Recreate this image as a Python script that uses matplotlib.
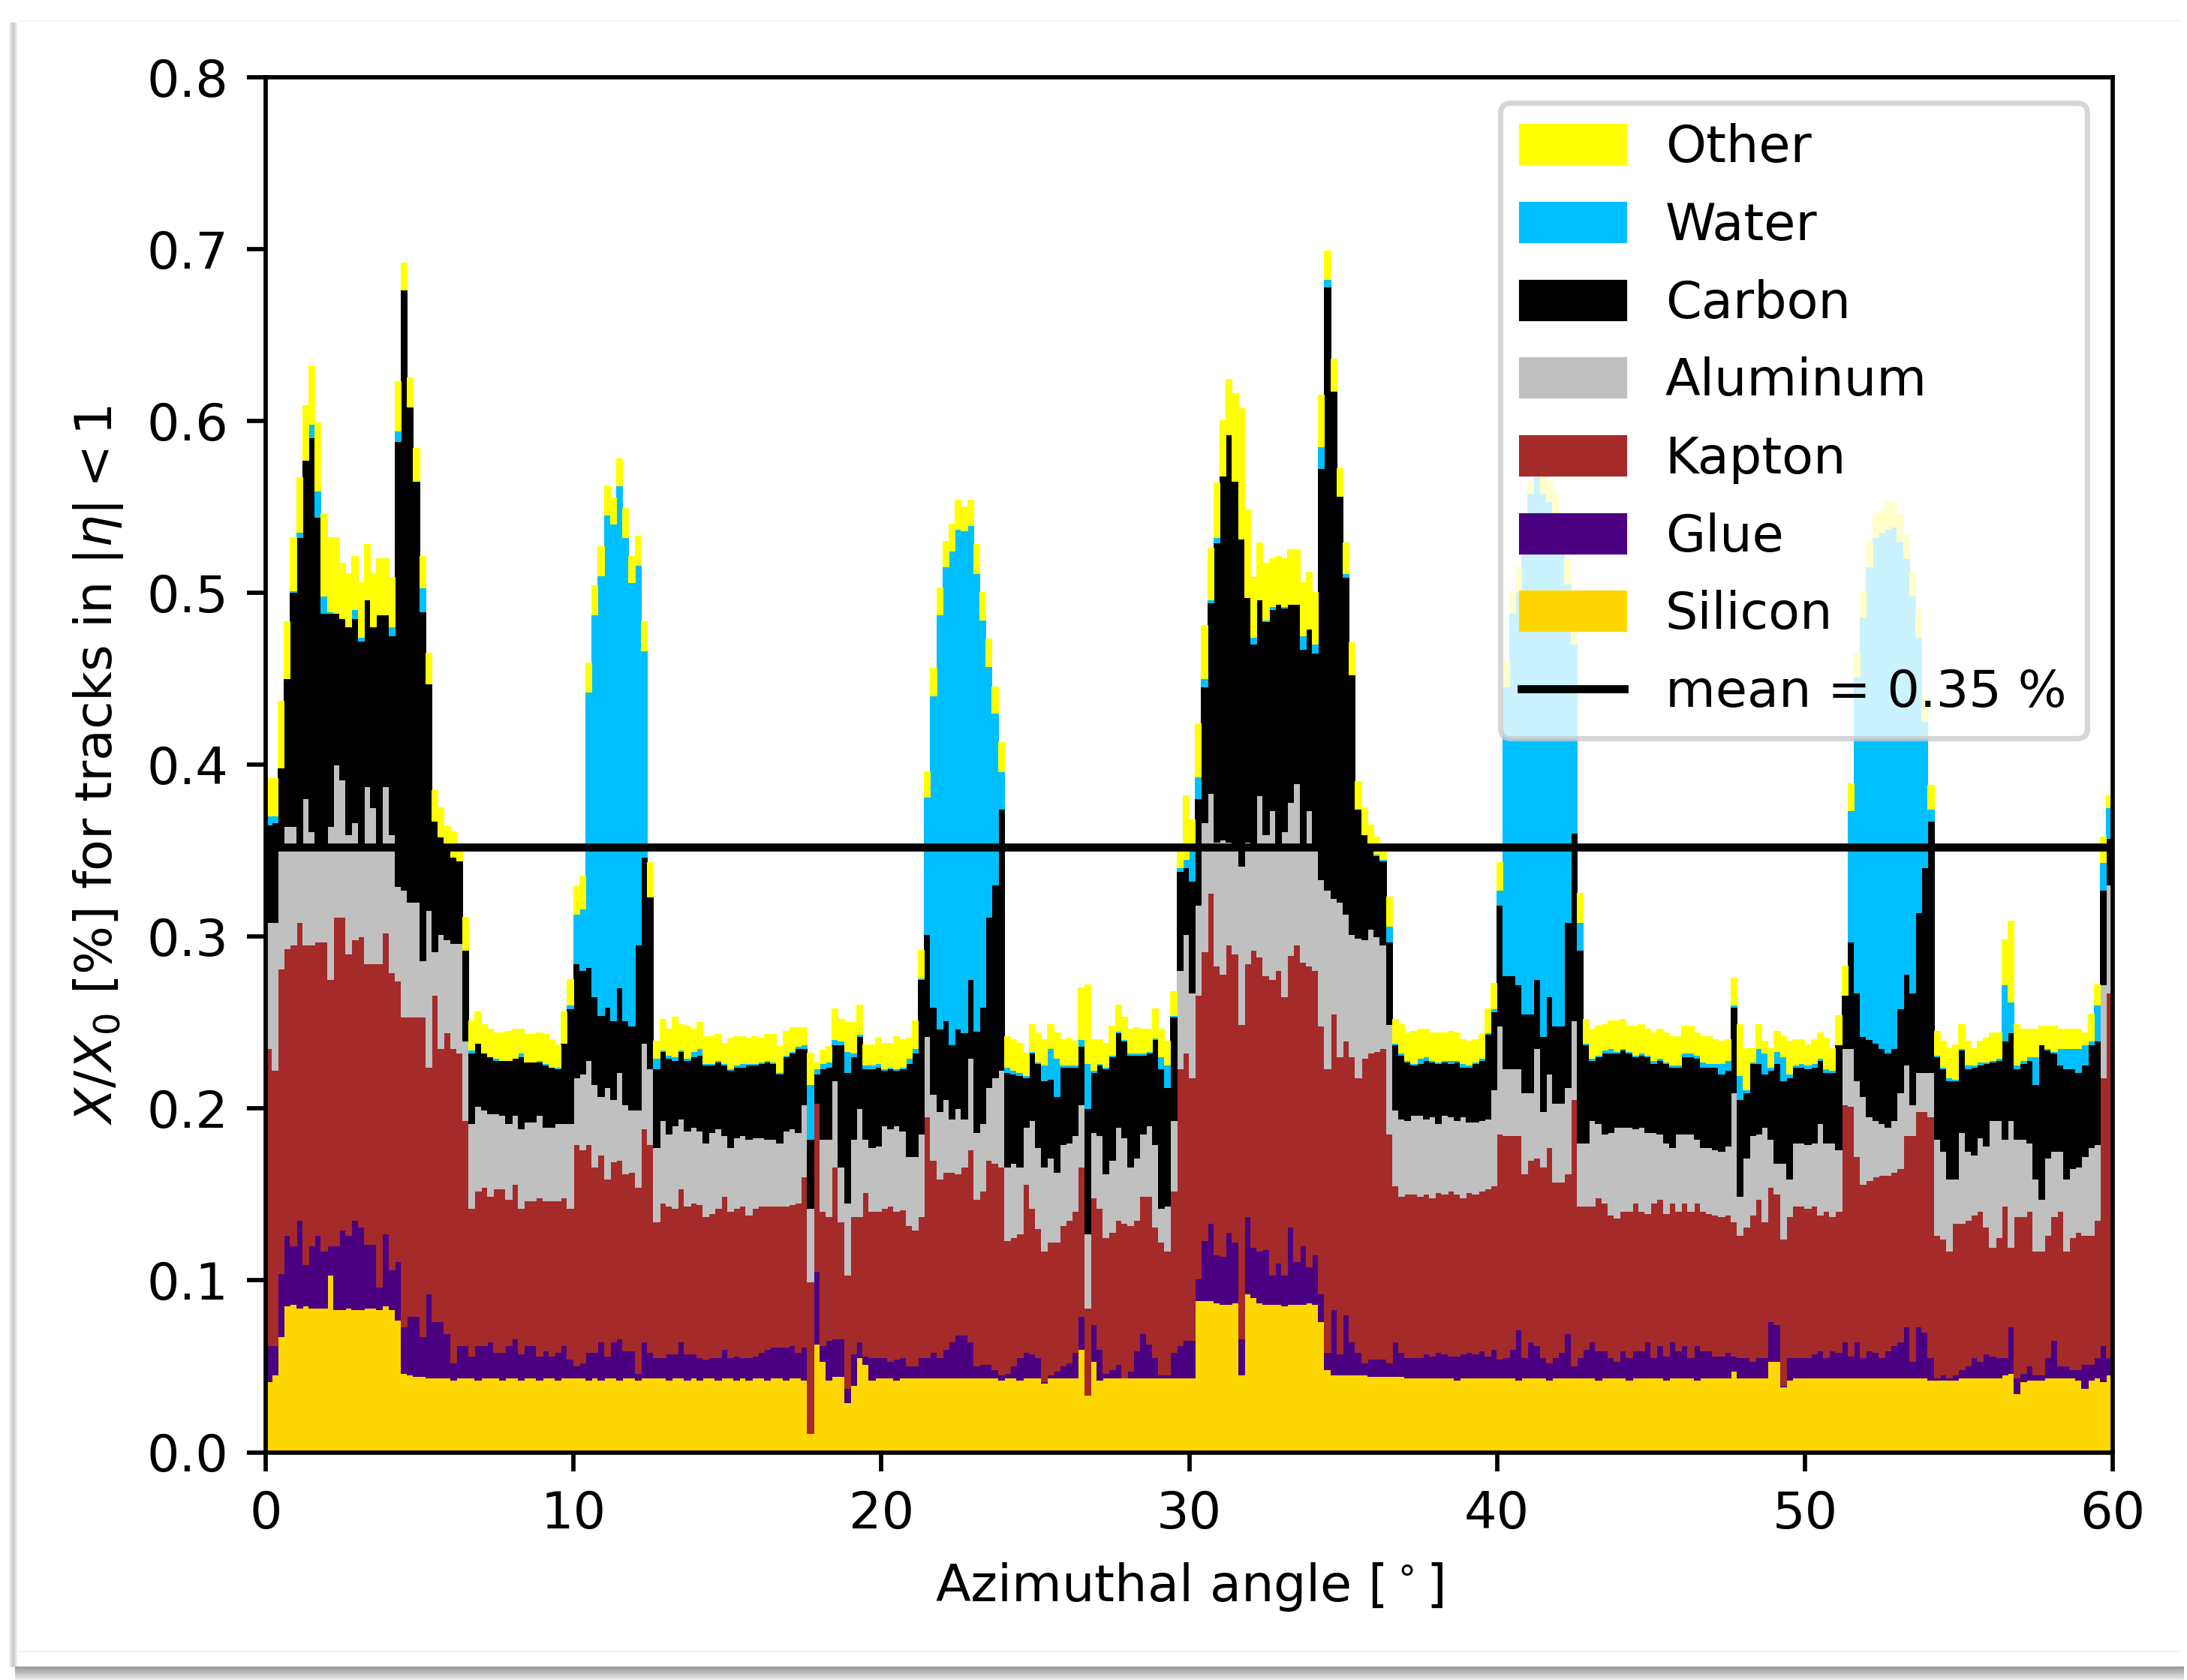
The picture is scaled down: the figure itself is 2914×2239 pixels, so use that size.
import numpy as np
import matplotlib
matplotlib.use("Agg")
import matplotlib.pyplot as plt
from matplotlib.patches import Patch, Rectangle
from matplotlib.lines import Line2D

# ---------------- data ----------------
# Azimuthal angle histogram: 0..60 deg, 0.2 deg bins (300 bins).
# Each array is the stacked (cumulative) X/X0 [%] level reached at the top
# of that material, read bin by bin from the reference picture.
angle_range = (0.0, 60.0)
n_bins = 300

silicon_top = [
    0.041, 0.045, 0.067, 0.085, 0.086, 0.084, 0.085, 0.084, 0.084, 0.084,
    0.103, 0.083, 0.083, 0.084, 0.083, 0.083, 0.084, 0.084, 0.083, 0.085,
    0.083, 0.077, 0.046, 0.045, 0.044, 0.044, 0.043, 0.043, 0.043, 0.043,
    0.042, 0.043, 0.043, 0.043, 0.042, 0.043, 0.043, 0.043, 0.042, 0.043,
    0.043, 0.042, 0.043, 0.043, 0.042, 0.043, 0.043, 0.042, 0.043, 0.043,
    0.043, 0.043, 0.042, 0.043, 0.042, 0.043, 0.043, 0.042, 0.043, 0.043,
    0.042, 0.043, 0.043, 0.043, 0.043, 0.042, 0.043, 0.043, 0.042, 0.043,
    0.042, 0.043, 0.043, 0.042, 0.043, 0.043, 0.042, 0.043, 0.042, 0.043,
    0.043, 0.042, 0.043, 0.043, 0.042, 0.043, 0.043, 0.042, 0.011, 0.063,
    0.053, 0.042, 0.044, 0.044, 0.029, 0.039, 0.055, 0.051, 0.042, 0.043,
    0.043, 0.043, 0.042, 0.043, 0.043, 0.043, 0.043, 0.043, 0.043, 0.043,
    0.043, 0.043, 0.043, 0.043, 0.043, 0.043, 0.043, 0.043, 0.043, 0.042,
    0.043, 0.043, 0.042, 0.043, 0.043, 0.043, 0.040, 0.043, 0.043, 0.043,
    0.043, 0.043, 0.060, 0.033, 0.053, 0.042, 0.043, 0.043, 0.043, 0.043,
    0.043, 0.043, 0.043, 0.043, 0.043, 0.043, 0.043, 0.043, 0.043, 0.043,
    0.043, 0.088, 0.088, 0.088, 0.087, 0.086, 0.086, 0.087, 0.045, 0.092,
    0.090, 0.087, 0.086, 0.086, 0.086, 0.085, 0.086, 0.086, 0.086, 0.087,
    0.086, 0.076, 0.048, 0.045, 0.045, 0.045, 0.045, 0.045, 0.045, 0.044,
    0.044, 0.044, 0.044, 0.044, 0.044, 0.043, 0.043, 0.043, 0.043, 0.043,
    0.043, 0.043, 0.043, 0.042, 0.043, 0.043, 0.043, 0.043, 0.043, 0.043,
    0.043, 0.043, 0.043, 0.042, 0.043, 0.043, 0.043, 0.043, 0.042, 0.043,
    0.043, 0.043, 0.043, 0.043, 0.043, 0.043, 0.042, 0.043, 0.043, 0.043,
    0.043, 0.042, 0.043, 0.043, 0.043, 0.043, 0.043, 0.042, 0.043, 0.043,
    0.043, 0.043, 0.042, 0.043, 0.043, 0.043, 0.043, 0.043, 0.047, 0.043,
    0.043, 0.043, 0.043, 0.043, 0.053, 0.053, 0.038, 0.042, 0.043, 0.043,
    0.043, 0.043, 0.043, 0.043, 0.043, 0.043, 0.043, 0.043, 0.043, 0.043,
    0.043, 0.043, 0.043, 0.043, 0.043, 0.043, 0.043, 0.043, 0.043, 0.043,
    0.042, 0.042, 0.042, 0.042, 0.042, 0.043, 0.043, 0.043, 0.043, 0.043,
    0.043, 0.043, 0.045, 0.046, 0.034, 0.041, 0.042, 0.042, 0.042, 0.043,
    0.043, 0.043, 0.043, 0.043, 0.042, 0.037, 0.042, 0.043, 0.041, 0.045,
]

glue_top = [
    0.062, 0.062, 0.104, 0.126, 0.120, 0.135, 0.109, 0.120, 0.126, 0.117,
    0.120, 0.120, 0.129, 0.126, 0.135, 0.131, 0.121, 0.121, 0.096, 0.127,
    0.106, 0.111, 0.073, 0.079, 0.079, 0.067, 0.092, 0.076, 0.076, 0.069,
    0.052, 0.062, 0.062, 0.056, 0.062, 0.062, 0.064, 0.058, 0.058, 0.062,
    0.066, 0.057, 0.062, 0.062, 0.056, 0.059, 0.056, 0.058, 0.062, 0.054,
    0.050, 0.052, 0.058, 0.058, 0.064, 0.056, 0.064, 0.066, 0.059, 0.059,
    0.046, 0.064, 0.058, 0.055, 0.055, 0.057, 0.057, 0.064, 0.057, 0.057,
    0.055, 0.054, 0.055, 0.055, 0.060, 0.055, 0.056, 0.055, 0.055, 0.056,
    0.058, 0.060, 0.061, 0.061, 0.061, 0.062, 0.058, 0.061, 0.011, 0.105,
    0.062, 0.065, 0.066, 0.066, 0.037, 0.057, 0.064, 0.056, 0.055, 0.055,
    0.055, 0.053, 0.054, 0.055, 0.050, 0.050, 0.055, 0.055, 0.058, 0.055,
    0.060, 0.064, 0.068, 0.068, 0.064, 0.050, 0.051, 0.051, 0.048, 0.045,
    0.046, 0.050, 0.055, 0.058, 0.057, 0.055, 0.041, 0.045, 0.047, 0.050,
    0.052, 0.058, 0.079, 0.033, 0.074, 0.060, 0.046, 0.048, 0.051, 0.043,
    0.047, 0.059, 0.069, 0.063, 0.055, 0.045, 0.045, 0.058, 0.062, 0.065,
    0.065, 0.101, 0.123, 0.133, 0.115, 0.114, 0.128, 0.122, 0.066, 0.137,
    0.119, 0.117, 0.118, 0.103, 0.110, 0.103, 0.131, 0.111, 0.120, 0.108,
    0.115, 0.092, 0.058, 0.083, 0.057, 0.080, 0.064, 0.058, 0.052, 0.054,
    0.054, 0.054, 0.052, 0.064, 0.058, 0.055, 0.055, 0.055, 0.057, 0.056,
    0.058, 0.057, 0.056, 0.056, 0.057, 0.058, 0.057, 0.059, 0.056, 0.060,
    0.054, 0.055, 0.060, 0.071, 0.055, 0.064, 0.062, 0.055, 0.052, 0.055,
    0.058, 0.069, 0.050, 0.055, 0.060, 0.064, 0.059, 0.059, 0.055, 0.053,
    0.059, 0.055, 0.059, 0.059, 0.064, 0.055, 0.062, 0.056, 0.064, 0.059,
    0.062, 0.055, 0.062, 0.059, 0.059, 0.056, 0.056, 0.058, 0.056, 0.055,
    0.055, 0.053, 0.055, 0.055, 0.076, 0.074, 0.039, 0.055, 0.055, 0.055,
    0.055, 0.057, 0.059, 0.055, 0.059, 0.058, 0.064, 0.056, 0.064, 0.055,
    0.059, 0.058, 0.055, 0.059, 0.062, 0.064, 0.073, 0.053, 0.073, 0.070,
    0.055, 0.043, 0.045, 0.043, 0.045, 0.048, 0.050, 0.055, 0.053, 0.057,
    0.056, 0.055, 0.055, 0.073, 0.043, 0.046, 0.050, 0.045, 0.045, 0.055,
    0.065, 0.050, 0.050, 0.048, 0.048, 0.051, 0.051, 0.055, 0.062, 0.055,
]

kapton_top = [
    0.235, 0.222, 0.281, 0.293, 0.295, 0.308, 0.295, 0.295, 0.297, 0.297,
    0.275, 0.311, 0.311, 0.290, 0.298, 0.300, 0.284, 0.284, 0.284, 0.302,
    0.279, 0.274, 0.253, 0.253, 0.253, 0.253, 0.224, 0.266, 0.235, 0.244,
    0.235, 0.232, 0.193, 0.142, 0.152, 0.154, 0.149, 0.153, 0.153, 0.147,
    0.156, 0.142, 0.146, 0.146, 0.148, 0.146, 0.146, 0.146, 0.148, 0.142,
    0.179, 0.176, 0.179, 0.166, 0.173, 0.159, 0.169, 0.170, 0.162, 0.163,
    0.154, 0.188, 0.179, 0.134, 0.145, 0.143, 0.142, 0.153, 0.143, 0.145,
    0.144, 0.137, 0.139, 0.142, 0.149, 0.140, 0.142, 0.143, 0.138, 0.142,
    0.143, 0.143, 0.143, 0.143, 0.143, 0.144, 0.145, 0.160, 0.099, 0.203,
    0.140, 0.137, 0.166, 0.134, 0.103, 0.137, 0.137, 0.151, 0.140, 0.140,
    0.142, 0.143, 0.140, 0.141, 0.132, 0.129, 0.137, 0.195, 0.170, 0.159,
    0.163, 0.163, 0.162, 0.166, 0.176, 0.147, 0.152, 0.170, 0.168, 0.166,
    0.123, 0.125, 0.127, 0.156, 0.142, 0.130, 0.117, 0.122, 0.122, 0.132,
    0.135, 0.140, 0.166, 0.084, 0.148, 0.142, 0.125, 0.128, 0.135, 0.133,
    0.132, 0.135, 0.149, 0.149, 0.131, 0.122, 0.117, 0.152, 0.223, 0.232,
    0.218, 0.266, 0.291, 0.325, 0.283, 0.278, 0.295, 0.290, 0.249, 0.284,
    0.292, 0.288, 0.277, 0.275, 0.280, 0.265, 0.289, 0.295, 0.285, 0.283,
    0.280, 0.248, 0.223, 0.255, 0.230, 0.239, 0.230, 0.218, 0.229, 0.232,
    0.233, 0.235, 0.185, 0.155, 0.149, 0.150, 0.150, 0.149, 0.150, 0.148,
    0.151, 0.150, 0.152, 0.150, 0.148, 0.151, 0.150, 0.152, 0.153, 0.155,
    0.185, 0.184, 0.184, 0.184, 0.162, 0.170, 0.171, 0.166, 0.177, 0.157,
    0.157, 0.162, 0.205, 0.143, 0.143, 0.143, 0.148, 0.145, 0.138, 0.136,
    0.140, 0.140, 0.145, 0.140, 0.139, 0.145, 0.147, 0.139, 0.145, 0.140,
    0.145, 0.140, 0.145, 0.140, 0.139, 0.138, 0.137, 0.138, 0.134, 0.126,
    0.131, 0.138, 0.147, 0.134, 0.154, 0.150, 0.124, 0.137, 0.143, 0.143,
    0.142, 0.143, 0.138, 0.140, 0.137, 0.140, 0.202, 0.201, 0.172, 0.156,
    0.158, 0.160, 0.161, 0.161, 0.163, 0.165, 0.184, 0.184, 0.198, 0.198,
    0.195, 0.126, 0.124, 0.117, 0.133, 0.133, 0.135, 0.138, 0.140, 0.131,
    0.119, 0.125, 0.143, 0.119, 0.137, 0.137, 0.140, 0.117, 0.117, 0.126,
    0.137, 0.140, 0.117, 0.125, 0.128, 0.126, 0.126, 0.135, 0.218, 0.267,
]

aluminum_top = [
    0.308, 0.308, 0.352, 0.364, 0.364, 0.350, 0.380, 0.361, 0.350, 0.350,
    0.364, 0.400, 0.391, 0.359, 0.366, 0.350, 0.387, 0.375, 0.350, 0.387,
    0.359, 0.329, 0.327, 0.320, 0.320, 0.286, 0.315, 0.291, 0.301, 0.298,
    0.296, 0.296, 0.239, 0.191, 0.201, 0.199, 0.197, 0.197, 0.196, 0.191,
    0.196, 0.188, 0.192, 0.192, 0.196, 0.189, 0.189, 0.191, 0.191, 0.191,
    0.218, 0.220, 0.228, 0.214, 0.207, 0.212, 0.205, 0.221, 0.202, 0.199,
    0.199, 0.238, 0.223, 0.177, 0.193, 0.185, 0.190, 0.194, 0.187, 0.189,
    0.187, 0.180, 0.186, 0.188, 0.184, 0.177, 0.183, 0.184, 0.182, 0.183,
    0.183, 0.182, 0.182, 0.180, 0.187, 0.188, 0.186, 0.202, 0.142, 0.203,
    0.182, 0.182, 0.216, 0.166, 0.145, 0.182, 0.200, 0.182, 0.177, 0.178,
    0.190, 0.188, 0.190, 0.187, 0.172, 0.172, 0.185, 0.242, 0.208, 0.198,
    0.205, 0.194, 0.200, 0.194, 0.229, 0.186, 0.191, 0.212, 0.218, 0.222,
    0.166, 0.168, 0.166, 0.189, 0.193, 0.177, 0.166, 0.171, 0.163, 0.179,
    0.180, 0.184, 0.202, 0.127, 0.186, 0.184, 0.162, 0.170, 0.189, 0.183,
    0.166, 0.171, 0.185, 0.190, 0.179, 0.142, 0.143, 0.193, 0.280, 0.301,
    0.267, 0.318, 0.366, 0.383, 0.355, 0.356, 0.355, 0.350, 0.341, 0.355,
    0.352, 0.382, 0.359, 0.373, 0.352, 0.361, 0.378, 0.389, 0.352, 0.373,
    0.352, 0.333, 0.327, 0.322, 0.320, 0.313, 0.301, 0.299, 0.298, 0.304,
    0.300, 0.295, 0.249, 0.199, 0.194, 0.193, 0.196, 0.196, 0.194, 0.195,
    0.191, 0.196, 0.195, 0.193, 0.195, 0.192, 0.192, 0.193, 0.194, 0.211,
    0.248, 0.223, 0.223, 0.223, 0.209, 0.209, 0.235, 0.198, 0.220, 0.203,
    0.203, 0.212, 0.251, 0.180, 0.180, 0.193, 0.191, 0.185, 0.186, 0.189,
    0.189, 0.189, 0.188, 0.189, 0.186, 0.186, 0.185, 0.180, 0.177, 0.185,
    0.185, 0.185, 0.182, 0.177, 0.177, 0.176, 0.175, 0.178, 0.209, 0.149,
    0.171, 0.184, 0.185, 0.189, 0.182, 0.168, 0.168, 0.159, 0.180, 0.180,
    0.179, 0.180, 0.191, 0.180, 0.180, 0.176, 0.235, 0.235, 0.216, 0.207,
    0.195, 0.193, 0.191, 0.189, 0.193, 0.209, 0.225, 0.202, 0.221, 0.221,
    0.221, 0.182, 0.175, 0.159, 0.159, 0.186, 0.175, 0.173, 0.183, 0.178,
    0.193, 0.193, 0.182, 0.193, 0.182, 0.182, 0.180, 0.159, 0.147, 0.171,
    0.175, 0.175, 0.159, 0.165, 0.166, 0.172, 0.177, 0.179, 0.272, 0.330,
]

carbon_top = [
    0.365, 0.366, 0.398, 0.450, 0.500, 0.532, 0.577, 0.590, 0.544, 0.488,
    0.488, 0.488, 0.485, 0.480, 0.485, 0.472, 0.496, 0.480, 0.487, 0.487,
    0.475, 0.588, 0.676, 0.608, 0.565, 0.489, 0.447, 0.367, 0.358, 0.350,
    0.346, 0.344, 0.292, 0.232, 0.238, 0.232, 0.230, 0.228, 0.228, 0.228,
    0.229, 0.230, 0.227, 0.227, 0.227, 0.225, 0.224, 0.223, 0.238, 0.258,
    0.284, 0.280, 0.282, 0.265, 0.254, 0.259, 0.251, 0.270, 0.251, 0.248,
    0.295, 0.346, 0.323, 0.223, 0.233, 0.229, 0.228, 0.233, 0.228, 0.230,
    0.231, 0.225, 0.225, 0.227, 0.225, 0.222, 0.224, 0.224, 0.225, 0.225,
    0.226, 0.227, 0.226, 0.220, 0.230, 0.232, 0.235, 0.235, 0.182, 0.220,
    0.223, 0.224, 0.237, 0.237, 0.221, 0.230, 0.242, 0.223, 0.223, 0.224,
    0.222, 0.223, 0.222, 0.223, 0.226, 0.232, 0.275, 0.301, 0.259, 0.246,
    0.251, 0.237, 0.246, 0.244, 0.275, 0.245, 0.259, 0.311, 0.330, 0.374,
    0.221, 0.220, 0.219, 0.218, 0.232, 0.226, 0.216, 0.217, 0.207, 0.224,
    0.224, 0.224, 0.236, 0.200, 0.221, 0.225, 0.223, 0.230, 0.244, 0.239,
    0.231, 0.231, 0.231, 0.232, 0.240, 0.223, 0.212, 0.253, 0.338, 0.340,
    0.332, 0.380, 0.445, 0.494, 0.529, 0.568, 0.592, 0.565, 0.531, 0.497,
    0.470, 0.496, 0.483, 0.490, 0.493, 0.491, 0.493, 0.493, 0.467, 0.479,
    0.465, 0.572, 0.678, 0.617, 0.556, 0.509, 0.452, 0.374, 0.359, 0.351,
    0.347, 0.344, 0.297, 0.237, 0.231, 0.227, 0.225, 0.226, 0.228, 0.227,
    0.226, 0.227, 0.226, 0.227, 0.224, 0.224, 0.226, 0.228, 0.243, 0.256,
    0.318, 0.277, 0.277, 0.272, 0.255, 0.255, 0.275, 0.242, 0.265, 0.248,
    0.248, 0.308, 0.360, 0.292, 0.237, 0.228, 0.230, 0.232, 0.232, 0.232,
    0.234, 0.232, 0.230, 0.231, 0.230, 0.226, 0.228, 0.226, 0.224, 0.224,
    0.230, 0.230, 0.229, 0.224, 0.224, 0.224, 0.220, 0.222, 0.259, 0.205,
    0.209, 0.226, 0.226, 0.220, 0.222, 0.226, 0.216, 0.218, 0.224, 0.224,
    0.223, 0.224, 0.228, 0.221, 0.221, 0.237, 0.266, 0.297, 0.267, 0.242,
    0.240, 0.238, 0.235, 0.232, 0.235, 0.258, 0.278, 0.267, 0.314, 0.340,
    0.367, 0.230, 0.223, 0.216, 0.216, 0.234, 0.223, 0.224, 0.225, 0.226,
    0.227, 0.228, 0.239, 0.244, 0.223, 0.226, 0.228, 0.214, 0.237, 0.234,
    0.232, 0.225, 0.223, 0.223, 0.221, 0.225, 0.237, 0.239, 0.327, 0.357,
]

water_top = [
    0.370, 0.370, 0.398, 0.450, 0.501, 0.535, 0.577, 0.598, 0.559, 0.498,
    0.489, 0.488, 0.485, 0.480, 0.490, 0.474, 0.496, 0.480, 0.487, 0.487,
    0.480, 0.594, 0.676, 0.608, 0.565, 0.503, 0.447, 0.367, 0.358, 0.350,
    0.346, 0.344, 0.292, 0.234, 0.238, 0.232, 0.230, 0.229, 0.228, 0.228,
    0.229, 0.232, 0.227, 0.227, 0.228, 0.226, 0.224, 0.224, 0.238, 0.260,
    0.313, 0.316, 0.442, 0.487, 0.510, 0.545, 0.540, 0.562, 0.532, 0.506,
    0.516, 0.466, 0.323, 0.229, 0.234, 0.231, 0.230, 0.234, 0.229, 0.233,
    0.235, 0.226, 0.226, 0.228, 0.226, 0.223, 0.225, 0.226, 0.226, 0.226,
    0.227, 0.228, 0.227, 0.221, 0.231, 0.233, 0.236, 0.237, 0.214, 0.223,
    0.226, 0.227, 0.240, 0.239, 0.233, 0.232, 0.243, 0.225, 0.225, 0.226,
    0.223, 0.224, 0.223, 0.224, 0.229, 0.235, 0.276, 0.381, 0.440, 0.487,
    0.515, 0.524, 0.537, 0.536, 0.539, 0.511, 0.484, 0.457, 0.430, 0.396,
    0.224, 0.222, 0.221, 0.219, 0.233, 0.227, 0.225, 0.235, 0.229, 0.225,
    0.225, 0.225, 0.240, 0.226, 0.222, 0.226, 0.224, 0.231, 0.245, 0.240,
    0.232, 0.232, 0.232, 0.233, 0.241, 0.230, 0.225, 0.254, 0.340, 0.345,
    0.352, 0.393, 0.450, 0.496, 0.532, 0.568, 0.592, 0.565, 0.531, 0.497,
    0.474, 0.496, 0.484, 0.492, 0.493, 0.492, 0.493, 0.493, 0.475, 0.479,
    0.470, 0.585, 0.682, 0.617, 0.556, 0.511, 0.452, 0.374, 0.359, 0.351,
    0.348, 0.345, 0.306, 0.238, 0.232, 0.228, 0.226, 0.229, 0.230, 0.228,
    0.227, 0.228, 0.228, 0.228, 0.226, 0.225, 0.227, 0.229, 0.244, 0.258,
    0.327, 0.445, 0.488, 0.500, 0.525, 0.558, 0.568, 0.558, 0.553, 0.545,
    0.527, 0.505, 0.470, 0.308, 0.238, 0.229, 0.231, 0.234, 0.235, 0.233,
    0.235, 0.233, 0.231, 0.232, 0.231, 0.228, 0.229, 0.227, 0.225, 0.225,
    0.232, 0.232, 0.231, 0.227, 0.226, 0.226, 0.226, 0.228, 0.260, 0.219,
    0.211, 0.227, 0.235, 0.232, 0.224, 0.233, 0.230, 0.220, 0.225, 0.226,
    0.225, 0.226, 0.229, 0.223, 0.222, 0.237, 0.266, 0.373, 0.451, 0.486,
    0.515, 0.532, 0.535, 0.537, 0.538, 0.530, 0.520, 0.498, 0.474, 0.425,
    0.374, 0.231, 0.224, 0.218, 0.217, 0.235, 0.225, 0.225, 0.227, 0.227,
    0.228, 0.229, 0.272, 0.262, 0.225, 0.228, 0.230, 0.230, 0.237, 0.235,
    0.233, 0.235, 0.235, 0.235, 0.235, 0.237, 0.239, 0.260, 0.343, 0.375,
]

other_top = [
    0.392, 0.392, 0.437, 0.483, 0.532, 0.567, 0.609, 0.632, 0.599, 0.546,
    0.532, 0.532, 0.517, 0.511, 0.521, 0.506, 0.528, 0.511, 0.520, 0.520,
    0.509, 0.623, 0.692, 0.625, 0.584, 0.521, 0.465, 0.385, 0.375, 0.364,
    0.361, 0.352, 0.311, 0.251, 0.256, 0.249, 0.246, 0.244, 0.244, 0.245,
    0.246, 0.246, 0.243, 0.243, 0.244, 0.243, 0.240, 0.237, 0.256, 0.275,
    0.329, 0.335, 0.459, 0.504, 0.527, 0.562, 0.555, 0.578, 0.549, 0.521,
    0.533, 0.483, 0.343, 0.239, 0.252, 0.246, 0.253, 0.249, 0.248, 0.246,
    0.250, 0.242, 0.242, 0.243, 0.238, 0.241, 0.242, 0.242, 0.241, 0.242,
    0.241, 0.243, 0.243, 0.236, 0.245, 0.247, 0.247, 0.247, 0.232, 0.227,
    0.234, 0.236, 0.258, 0.252, 0.250, 0.250, 0.260, 0.237, 0.237, 0.241,
    0.238, 0.238, 0.242, 0.240, 0.241, 0.251, 0.292, 0.396, 0.456, 0.503,
    0.530, 0.540, 0.554, 0.550, 0.554, 0.528, 0.500, 0.473, 0.445, 0.413,
    0.242, 0.240, 0.238, 0.232, 0.249, 0.244, 0.240, 0.249, 0.244, 0.240,
    0.241, 0.239, 0.270, 0.272, 0.240, 0.240, 0.238, 0.248, 0.260, 0.253,
    0.246, 0.247, 0.246, 0.246, 0.258, 0.246, 0.239, 0.268, 0.353, 0.382,
    0.368, 0.424, 0.481, 0.526, 0.564, 0.600, 0.624, 0.616, 0.607, 0.548,
    0.509, 0.529, 0.517, 0.520, 0.521, 0.520, 0.525, 0.525, 0.506, 0.512,
    0.500, 0.615, 0.699, 0.636, 0.572, 0.529, 0.471, 0.390, 0.375, 0.365,
    0.358, 0.350, 0.323, 0.252, 0.249, 0.244, 0.245, 0.246, 0.246, 0.244,
    0.244, 0.244, 0.245, 0.244, 0.240, 0.239, 0.240, 0.243, 0.258, 0.273,
    0.343, 0.460, 0.500, 0.515, 0.540, 0.565, 0.575, 0.568, 0.565, 0.558,
    0.540, 0.520, 0.485, 0.325, 0.252, 0.246, 0.248, 0.249, 0.251, 0.251,
    0.252, 0.248, 0.248, 0.249, 0.246, 0.244, 0.246, 0.244, 0.242, 0.242,
    0.248, 0.248, 0.244, 0.242, 0.242, 0.240, 0.239, 0.240, 0.276, 0.249,
    0.235, 0.235, 0.249, 0.239, 0.235, 0.245, 0.242, 0.239, 0.240, 0.240,
    0.237, 0.240, 0.244, 0.241, 0.235, 0.254, 0.283, 0.389, 0.465, 0.500,
    0.530, 0.546, 0.548, 0.553, 0.552, 0.546, 0.534, 0.512, 0.490, 0.440,
    0.388, 0.245, 0.239, 0.235, 0.237, 0.249, 0.239, 0.235, 0.239, 0.241,
    0.244, 0.244, 0.298, 0.309, 0.249, 0.246, 0.246, 0.246, 0.248, 0.248,
    0.248, 0.246, 0.246, 0.246, 0.246, 0.244, 0.255, 0.272, 0.358, 0.382,
]

mean_value = 0.352

materials = ["Silicon", "Glue", "Kapton", "Aluminum", "Carbon", "Water", "Other"]
colors = ["gold", "indigo", "brown", "silver", "black", "deepskyblue", "yellow"]
levels = [silicon_top, glue_top, kapton_top, aluminum_top, carbon_top, water_top, other_top]

# ---------------- figure ----------------
W, H, DPI = 2914, 2239, 514
plt.rcParams["font.size"] = 9.6
fig = plt.figure(figsize=(W / DPI, H / DPI), dpi=DPI)
fig.patch.set_facecolor("white")


def px_rect(x0, y0, x1, y1, **kw):
    r = Rectangle((x0 / W, 1 - y1 / H), (x1 - x0) / W, (y1 - y0) / H,
                  transform=fig.transFigure, linewidth=0, **kw)
    fig.add_artist(r)


# screenshot-like card frame with a soft shadow
for k, g in enumerate([0.93, 0.87, 0.82, 0.80, 0.82, 0.87, 0.93]):
    px_rect(12 + k * 1.5, 30, 13.5 + k * 1.5, 2222, color=str(g))
for k, g in enumerate([0.62, 0.66, 0.70, 0.75, 0.80, 0.86, 0.92]):
    px_rect(20, 2221 + k * 2.6, 2910, 2224 + k * 2.6, color=str(g))
px_rect(24, 27, 2905, 29, color="0.96")
px_rect(24, 2200, 2905, 2202, color="0.95")

ax = fig.add_axes([354 / W, 1 - 1935.5 / H, (2815 - 354) / W, (1935.5 - 102.6) / H])

edges = np.linspace(angle_range[0], angle_range[1], n_bins + 1)
baseline = np.zeros(n_bins)
for lev, col in zip(levels, colors):
    top = np.asarray(lev)
    ax.stairs(top, edges, baseline=baseline, fill=True, color=col,
              linewidth=0, antialiased=False)
    baseline = top

ax.axhline(mean_value, color="black", linewidth=1.5, zorder=5)

ax.set_xlim(*angle_range)
ax.set_ylim(0, 0.8)
ax.set_xticks(np.arange(0, 61, 10))
ax.set_yticks(np.arange(0, 0.81, 0.1))
ax.set_xlabel(r"Azimuthal angle [$^\circ$]")
ax.set_ylabel(r"$X/X_0$ [%] for tracks in $|\eta| < 1$")

handles = [Patch(color=c) for c in colors[::-1]] + [Line2D([], [], color="black", linewidth=1.5)]
labels = materials[::-1] + [f"mean = {mean_value:.2f} %"]
ax.legend(handles, labels, loc="upper right", labelspacing=0.55)

fig.savefig("out.png", dpi=DPI, facecolor="white")
